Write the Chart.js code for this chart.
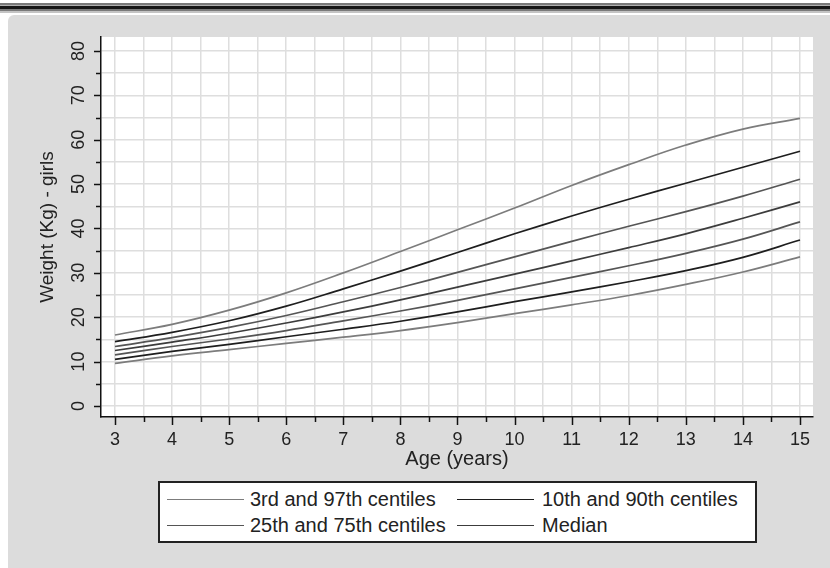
<!DOCTYPE html>
<html>
<head>
<meta charset="utf-8">
<script src="https://cdn.jsdelivr.net/npm/chart.js@4/dist/chart.umd.min.js"></script>
<style>
  html, body { margin: 0; padding: 0; background: #fff; }
  #wrap { position: relative; width: 830px; height: 568px; overflow: hidden; }
  #chart { position: absolute; left: 0; top: 0; }
  #legend {
    position: absolute; left: 158px; top: 481px; width: 599px; height: 62px;
    box-sizing: border-box; border: 2px solid #222; background: #fff;
    font-family: "Liberation Sans", Arial, sans-serif; font-size: 20px; color: #222;
  }
  #legend .ln { position: absolute; height: 0; border-top: 1.5px solid #555; }
  #legend .tx { position: absolute; line-height: 20px; white-space: nowrap; }
</style>
</head>
<body>
<div id="wrap">
  <canvas id="chart" width="830" height="568"></canvas>
  <div id="legend"></div>
</div>
<script>
// ages (years) and centile weights (kg)
const ages = [3, 4, 5, 6, 7, 8, 9, 10, 11, 12, 13, 14, 15];
const p97  = [16.0, 18.4, 21.6, 25.5, 30.0, 34.8, 39.7, 44.6, 49.7, 54.4, 58.8, 62.4, 64.8];
const p90  = [14.5, 16.6, 19.2, 22.5, 26.4, 30.4, 34.6, 38.8, 42.8, 46.6, 50.2, 53.8, 57.4];
const p75  = [13.4, 15.4, 17.7, 20.4, 23.5, 26.7, 30.1, 33.6, 37.1, 40.5, 43.8, 47.3, 51.1];
const p50  = [12.5, 14.4, 16.4, 18.7, 21.2, 23.9, 26.8, 29.7, 32.7, 35.7, 38.8, 42.3, 46.0];
const p25  = [11.5, 13.4, 15.1, 17.0, 19.2, 21.4, 23.8, 26.4, 29.0, 31.6, 34.4, 37.6, 41.5];
const p10  = [10.5, 12.3, 13.9, 15.6, 17.3, 19.1, 21.2, 23.5, 25.7, 28.0, 30.5, 33.5, 37.4];
const p3   = [ 9.6, 11.3, 12.7, 14.1, 15.5, 17.0, 18.8, 20.8, 22.8, 24.9, 27.4, 30.2, 33.6];

const ageTicks    = [3, 4, 5, 6, 7, 8, 9, 10, 11, 12, 13, 14, 15];
const weightTicks = [0, 10, 20, 30, 40, 50, 60, 70, 80];

const legendLabels = ['3rd and 97th centiles', '10th and 90th centiles',
                      '25th and 75th centiles', 'Median'];
const legendColors = ['#7c7c7c', '#1e1e1e', '#555555', '#3c3c3c'];

const FONT = '"Liberation Sans", Arial, sans-serif';

// series -> legend group
const series = [
  { label: '97th', data: p97, g: 0 },
  { label: '90th', data: p90, g: 1 },
  { label: '75th', data: p75, g: 2 },
  { label: 'Median', data: p50, g: 3 },
  { label: '25th', data: p25, g: 2 },
  { label: '10th', data: p10, g: 1 },
  { label: '3rd',  data: p3,  g: 0 },
];

// half steps between the labelled ticks
const withMinor = arr => arr.flatMap((v, i) =>
  i < arr.length - 1 ? [v, (v + arr[i + 1]) / 2] : [v]);

// background, top rule, grey panel, white plot area
const backdrop = {
  id: 'backdrop',
  beforeDraw(chart) {
    const { ctx, width, height, chartArea: a } = chart;
    ctx.save();
    ctx.fillStyle = '#fff';
    ctx.fillRect(0, 0, width, height);
    ctx.fillStyle = '#7a7a7a'; ctx.fillRect(0, 3, width, 2);
    ctx.fillStyle = '#b0b0b0'; ctx.fillRect(0, 5, width, 1);
    ctx.fillStyle = '#161616'; ctx.fillRect(0, 6, width, 3);
    ctx.fillStyle = '#7a7a7a'; ctx.fillRect(0, 9, width, 2);
    ctx.fillStyle = '#c4c4c4'; ctx.fillRect(0, 11, width, 2);
    ctx.fillStyle = '#dcdcdc';
    ctx.beginPath();
    ctx.roundRect(8, 15, width, height, 6);
    ctx.fill();
    ctx.fillStyle = '#fff';
    ctx.fillRect(a.left, a.top, a.right - a.left, a.bottom - a.top);
    ctx.restore();
  }
};

// outward tick marks, long at labelled values, short between
const tickMarks = {
  id: 'tickMarks',
  afterDraw(chart) {
    const { ctx, chartArea: a, scales: { x, y } } = chart;
    ctx.save();
    ctx.strokeStyle = '#111';
    ctx.lineWidth = 1.5;
    x.ticks.forEach(t => {
      const px = Math.round(x.getPixelForValue(t.value)) + 0.5;
      const len = ageTicks.includes(t.value) ? 8 : 5;
      ctx.beginPath(); ctx.moveTo(px, a.bottom); ctx.lineTo(px, a.bottom + len); ctx.stroke();
    });
    y.ticks.forEach(t => {
      const py = Math.round(y.getPixelForValue(t.value)) + 0.5;
      const len = weightTicks.includes(t.value) ? 7 : 5;
      ctx.beginPath(); ctx.moveTo(a.left, py); ctx.lineTo(a.left - len, py); ctx.stroke();
    });
    ctx.restore();
  }
};

new Chart(document.getElementById('chart'), {
  type: 'line',
  data: {
    datasets: series.map(s => ({
      label: s.label,
      data: ages.map((a, i) => ({ x: a, y: s.data[i] })),
      borderColor: legendColors[s.g],
      borderWidth: 1.7,
      pointRadius: 0,
      tension: 0.4,
      fill: false,
    }))
  },
  options: {
    responsive: false,
    animation: false,
    devicePixelRatio: 1,
    layout: { padding: { left: 0, top: 37, right: 17, bottom: 91 } },
    plugins: { legend: { display: false }, tooltip: { enabled: false } },
    scales: {
      x: {
        type: 'linear',
        min: 2.755, max: 15.228,
        afterBuildTicks: s => { s.ticks = withMinor(ageTicks).map(v => ({ value: v })); },
        afterFit: s => { s.height = 60; },
        ticks: {
          autoSkip: false, maxRotation: 0, padding: 12,
          color: '#222', font: { family: FONT, size: 18 },
          callback: v => ageTicks.includes(v) ? String(v) : ''
        },
        grid: { color: '#dedede', lineWidth: 1.5, drawTicks: false },
        border: { color: '#111', width: 1.5 },
        title: {
          display: true, text: 'Age (years)', color: '#222',
          font: { family: FONT, size: 20 }, padding: { top: 0, bottom: 6 }
        }
      },
      y: {
        min: -2.48, max: 83.15,
        afterBuildTicks: s => { s.ticks = withMinor(weightTicks).map(v => ({ value: v })); },
        afterFit: s => { s.width = 101; },
        ticks: {
          autoSkip: false, minRotation: 90, crossAlign: 'center', padding: 12,
          color: '#222', font: { family: FONT, size: 18 },
          callback: v => weightTicks.includes(v) ? String(v) : ''
        },
        grid: { color: '#dedede', lineWidth: 1.5, drawTicks: false },
        border: { color: '#111', width: 1.5 },
        title: {
          display: true, text: 'Weight (Kg) - girls', color: '#222',
          font: { family: FONT, size: 19 }, padding: { top: 36, bottom: 0 }
        }
      }
    }
  },
  plugins: [backdrop, tickMarks]
});

// legend box, two columns x two rows
const legend = document.getElementById('legend');
const lineX = [7, 297], lineW = 77, textX = [90, 382], rowY = [16, 42];
legendLabels.forEach((lab, i) => {
  const col = i % 2, row = Math.floor(i / 2);
  const ln = document.createElement('div');
  ln.className = 'ln';
  ln.style.left = lineX[col] + 'px';
  ln.style.width = lineW + 'px';
  ln.style.top = rowY[row] + 'px';
  ln.style.borderTopColor = legendColors[i];
  legend.appendChild(ln);
  const tx = document.createElement('div');
  tx.className = 'tx';
  tx.textContent = lab;
  tx.style.left = textX[col] + 'px';
  tx.style.top = (rowY[row] - 10) + 'px';
  legend.appendChild(tx);
});
</script>
</body>
</html>
